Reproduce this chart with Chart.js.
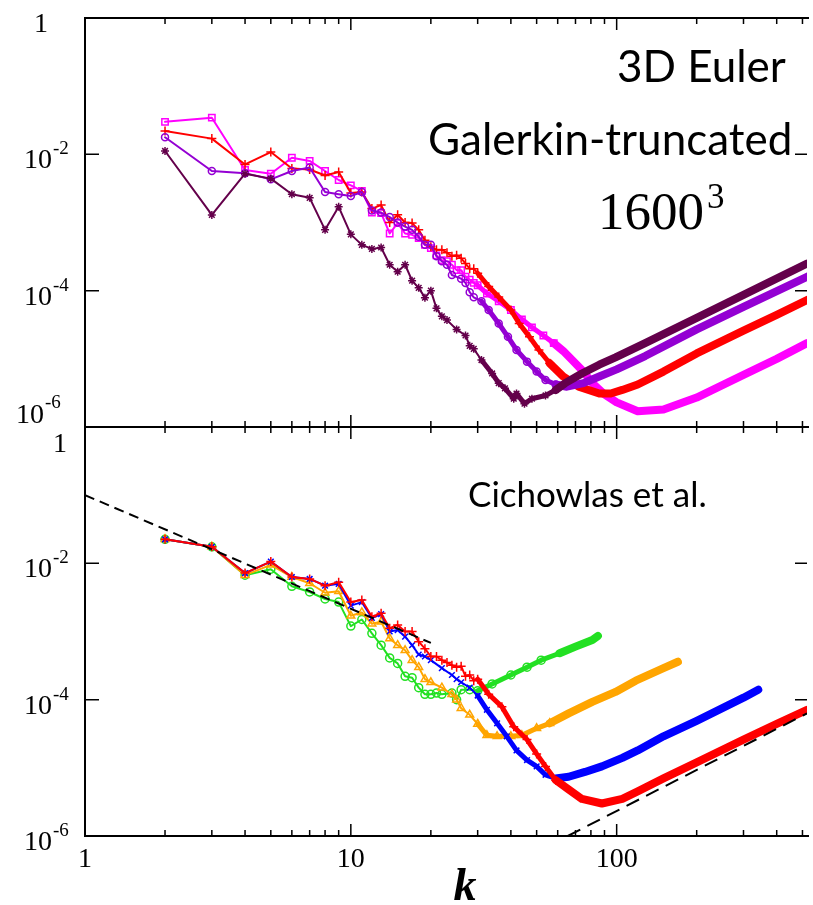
<!DOCTYPE html>
<html>
<head>
<meta charset="utf-8">
<title>3D Euler Galerkin-truncated spectra</title>
<script src="https://cdn.jsdelivr.net/npm/chart.js@4.4.1/dist/chart.umd.min.js"></script>
<style>
  html, body { margin: 0; padding: 0; background: #fff; }
  #wrap { position: relative; width: 813px; height: 905px; overflow: hidden; }
  canvas { position: absolute; left: 0; top: 0; }
</style>
</head>
<body>
<div id="wrap">
  <canvas id="chartTop" width="813" height="905"></canvas>
  <canvas id="chartBottom" width="813" height="905"></canvas>
</div>
<script>
// ---- axes ----
const xMajorTicks = [1, 10, 100];
const xMinorTicks = [2, 3, 4, 5, 6, 7, 8, 9, 20, 30, 40, 50, 60, 70, 80, 90, 200, 300, 400, 500];
const xTickLabels = ['1', '10', '100'];
const yTicks = [1, 1e-2, 1e-4, 1e-6];
const yTickExponents = ['', '-2', '-4', '-6'];

// ---- top panel: 1600^3 Galerkin-truncated runs, [k, E(k)] ----
const topRed = [[2,2.2e-2],[3,1.7e-2],[4,7.1e-3],[5,1.08e-2],[6,6.2e-3],[7,6.0e-3],[8,4.9e-3],[9,5.5e-3],
  [10,2.7e-3],[11,2.8e-3],[12,1.6e-3],[13,1.8e-3],[14,1.0e-3],[15,1.3e-3],[16,1.0e-3],[17,9.8e-4],[18,7.8e-4],
  [19,5.5e-4],[20,4.4e-4],[21,4.0e-4],[22,4.0e-4],[23,3.6e-4],[24,3.2e-4],[25,3.3e-4],[26,3.0e-4],[27,2.5e-4],
  [28,2.1e-4],[29,2.1e-4],[30,1.8e-4],[33,1.15e-4],[36,8.1e-5],[40,5.2e-5],[43,3.3e-5],[47,2.1e-5],[51,1.35e-5],
  [56,8.6e-6],[63,5.5e-6],[72,3.9e-6],[86,3.1e-6],[95,3.1e-6],[105,3.5e-6],[120,4.2e-6],[150,6.5e-6],
  [200,1.2e-5],[300,2.6e-5],[400,4.4e-5],[520,7.3e-5]];
const topMagenta = [[2,3.0e-2],[3,3.45e-2],[4,5.9e-3],[5,5.2e-3],[6,8.9e-3],[7,8.0e-3],[8,5.7e-3],[9,4.2e-3],
  [10,3.5e-3],[11,2.9e-3],[12,1.4e-3],[13,1.37e-3],[14,6.9e-4],[15,9.8e-4],[16,6.9e-4],[17,6.6e-4],[18,5.9e-4],
  [19,4.7e-4],[20,4.2e-4],[21,3.3e-4],[22,2.8e-4],[23,2.7e-4],[24,2.4e-4],[25,2.0e-4],[26,2.0e-4],[27,1.6e-4],
  [28,1.45e-4],[29,1.3e-4],[30,1.2e-4],[32.5,9.1e-5],[36,7.0e-5],[40,5.2e-5],[44,3.8e-5],[48,2.9e-5],[53,2.2e-5],
  [58,1.7e-5],[63,1.3e-5],[68,9.6e-6],[75,6.5e-6],[81,4.4e-6],[90,3.0e-6],[100,2.3e-6],[120,1.7e-6],
  [150,1.8e-6],[200,2.7e-6],[300,5.8e-6],[400,1.0e-5],[520,1.7e-5]];
const topPurple = [[2,1.78e-2],[3,5.7e-3],[4,5.3e-3],[5,4.3e-3],[6,5.7e-3],[7,6.4e-3],[8,2.8e-3],[9,2.6e-3],
  [10,2.45e-3],[11,2.8e-3],[12,1.5e-3],[13,1.4e-3],[14,1.2e-3],[15,1.0e-3],[16,8.7e-4],[17,7.8e-4],[18,6.2e-4],
  [19,4.7e-4],[20,4.7e-4],[21,3.2e-4],[22,2.7e-4],[23,2.4e-4],[24,1.7e-4],[26,1.5e-4],[27,1.3e-4],[28,9.5e-5],
  [29,8.0e-5],[31,7.0e-5],[33,5.2e-5],[36,3.3e-5],[39,2.1e-5],[42,1.35e-5],[46,9.1e-6],[50,6.5e-6],[54,4.9e-6],
  [59,4.2e-6],[65,3.9e-6],[75,4.4e-6],[86,5.5e-6],[100,7.0e-6],[128,1.1e-5],[200,2.7e-5],[300,5.8e-5],[520,1.6e-4]];
const topMaroon = [[2,1.12e-2],[3,1.29e-3],[4,5.2e-3],[5,4.4e-3],[6,2.6e-3],[7,2.3e-3],[8,7.8e-4],[9,1.7e-3],
  [10,6.7e-4],[11,4.7e-4],[12,4.1e-4],[13,4.3e-4],[14,2.4e-4],[15,1.9e-4],[16,2.4e-4],[17,1.4e-4],[18,1.1e-4],
  [19,7.9e-5],[20,1.0e-4],[21,5.5e-5],[22,4.2e-5],[23,3.7e-5],[25,2.7e-5],[27,2.2e-5],[28,1.55e-5],[29,1.4e-5],
  [31,9.6e-6],[34,6.1e-6],[36,4.4e-6],[38,3.7e-6],[41,2.6e-6],[42,3.1e-6],[45,2.2e-6],[48,2.6e-6],[54,2.9e-6],
  [59,3.5e-6],[64,4.4e-6],[74,6.1e-6],[86,8.2e-6],[99,1.05e-5],[128,1.7e-5],[200,4.0e-5],[300,8.7e-5],[520,2.5e-4]];

// ---- bottom panel: Cichowlas et al. runs ----
const botRed = [[2,2.25e-2],[3,1.75e-2],[4,7.2e-3],[5,1.06e-2],[6,6.3e-3],[7,5.9e-3],[8,4.7e-3],[9,5.3e-3],
  [10,2.7e-3],[11,2.9e-3],[12,1.65e-3],[13,1.85e-3],[14,1.12e-3],[15,1.25e-3],[16,1.0e-3],[17,1.0e-3],[18,7.1e-4],
  [19,5.6e-4],[20,4.3e-4],[21,4.3e-4],[22,3.8e-4],[23,3.5e-4],[24,3.2e-4],[25,3.0e-4],[26,3.1e-4],[27,2.2e-4],
  [28,2.3e-4],[29,1.9e-4],[30,2.0e-4],[33,1.2e-4],[37,7.9e-5],[41,4.0e-5],[46,2.6e-5],[50,1.6e-5],[54,1.05e-5],
  [59,6.6e-6],[66,4.8e-6],[74,3.5e-6],[88,3.0e-6],[105,3.5e-6],[120,4.5e-6],[150,7.0e-6],[200,1.2e-5],
  [300,2.6e-5],[400,4.4e-5],[520,7.1e-5]];
const botBlue = [[2,2.25e-2],[3,1.75e-2],[4,7.2e-3],[5,1.06e-2],[6,6.3e-3],[7,5.9e-3],[8,4.7e-3],[9,5.0e-3],
  [10,2.4e-3],[11,2.7e-3],[12,1.58e-3],[13,1.8e-3],[14,1.0e-3],[15,1.05e-3],[16,8.4e-4],[17,6.3e-4],[18,4.6e-4],
  [19,4.3e-4],[20,3.8e-4],[22,2.9e-4],[24,2.3e-4],[25,2.0e-4],[26,1.8e-4],[28,1.5e-4],[30,1.15e-4],[32.5,7.1e-5],
  [35.5,4.5e-5],[38.6,2.9e-5],[42,1.8e-5],[46,1.3e-5],[50,1.05e-5],[54,7.9e-6],[59,7.0e-6],[66,7.4e-6],[76,8.7e-6],
  [88,1.05e-5],[105,1.4e-5],[120,1.8e-5],[150,2.9e-5],[200,4.9e-5],[300,1.07e-4],[341,1.4e-4]];
const botOrange = [[2,2.25e-2],[3,1.75e-2],[4,6.7e-3],[5,9.5e-3],[6,6.3e-3],[7,5.1e-3],[8,3.7e-3],[9,3.9e-3],
  [10,1.7e-3],[11,1.9e-3],[12,1.3e-3],[13,1.39e-3],[14,7.9e-4],[15,6.3e-4],[16,5.3e-4],[17,3.8e-4],[18,3.0e-4],
  [19,2.0e-4],[20,1.8e-4],[22,1.5e-4],[24,1.2e-4],[25,1.0e-4],[26,7.5e-5],[28,6.0e-5],[30,4.4e-5],[32.5,3.0e-5],
  [35.5,2.9e-5],[40,2.9e-5],[44,3.0e-5],[50,3.8e-5],[56,4.5e-5],[66,6.3e-5],[81,9.3e-5],[99,1.3e-4],[118,1.9e-4],
  [150,2.9e-4],[170,3.6e-4]];
const botGreen = [[2,2.25e-2],[3,1.75e-2],[4,6.7e-3],[5,8.2e-3],[6,4.6e-3],[7,3.8e-3],[8,3.0e-3],[9,2.7e-3],
  [10,1.2e-3],[11,1.5e-3],[12,9.4e-4],[13,6.3e-4],[14,4.1e-4],[15,3.4e-4],[16,2.2e-4],[17,2.1e-4],[18,1.5e-4],
  [19,1.2e-4],[20,1.2e-4],[21,1.25e-4],[22,1.2e-4],[24,1.25e-4],[25,1.0e-4],[26,1.4e-4],[28,1.4e-4],[30,1.35e-4],
  [34,1.7e-4],[40,2.3e-4],[46,3.0e-4],[52,3.8e-4],[61,4.8e-4],[70,6.0e-4],[81,7.5e-4],[85,8.6e-4]];
// reference power laws k^-5/3 and k^2
const kolmogorovLine = [[1,0.1],[20,6.8e-4]];
const equipartitionLine = [[65.5,1e-6],[520,6.3e-5]];

const SERIF = "'Liberation Serif', 'DejaVu Serif', serif";
const SANS = "Lato, 'Open Sans', sans-serif";

// trait epais quand les marqueurs se chevauchent a grand k
function bandWidth(k) {
  if (k < 30) return 2;
  if (k < 55) return 5;
  return 8;
}

function series(points, color, style, radius, order) {
  return {
    data: points.map(p => ({x: p[0], y: p[1]})),
    showLine: true,
    order: order,
    borderColor: color,
    backgroundColor: 'rgba(0,0,0,0)',
    borderWidth: 2,
    borderJoinStyle: 'round',
    borderCapStyle: 'round',
    segment: { borderWidth: c => bandWidth(c.p0.parsed.x) },
    pointStyle: style,
    pointRadius: c => (c.raw && c.raw.x <= 60 ? radius : 0),
    pointBorderColor: color,
    pointBackgroundColor: 'rgba(0,0,0,0)',
    pointBorderWidth: 1.5,
  };
}

function dashed(points, dash) {
  return {
    data: points.map(p => ({x: p[0], y: p[1]})),
    showLine: true,
    order: 0,
    borderColor: '#000',
    borderWidth: 2,
    borderDash: dash,
    pointRadius: 0,
  };
}

function drawSup(ctx, base, exp, xRight, yBase, supBase) {
  ctx.font = '28px ' + SERIF;
  ctx.textAlign = 'right';
  ctx.fillText(base, xRight, yBase);
  ctx.font = '19px ' + SERIF;
  ctx.textAlign = 'left';
  ctx.fillText(exp, xRight + 1, supBase);
}

// cadre, graduations vers l'interieur et etiquettes
function framePlugin(opts) {
  return {
    id: 'frame',
    afterDatasetsDraw(chart) {
      const ctx = chart.ctx, a = chart.chartArea;
      const xs = chart.scales.x, ys = chart.scales.y;
      ctx.save();
      ctx.strokeStyle = '#000';
      ctx.lineWidth = 2;
      ctx.beginPath();
      ctx.moveTo(a.right + 2, a.top); ctx.lineTo(a.left, a.top);
      ctx.lineTo(a.left, a.bottom); ctx.lineTo(a.right + 2, a.bottom);
      ctx.stroke();

      ctx.lineWidth = 1.5;
      ctx.beginPath();
      const xt = (v, len) => {
        const p = xs.getPixelForValue(v);
        ctx.moveTo(p, a.top); ctx.lineTo(p, a.top + len);
        ctx.moveTo(p, a.bottom); ctx.lineTo(p, a.bottom - len);
      };
      xMajorTicks.forEach(v => xt(v, 12));
      xMinorTicks.forEach(v => xt(v, 6));
      yTicks.forEach(v => {
        const p = ys.getPixelForValue(v);
        ctx.moveTo(a.left, p); ctx.lineTo(a.left + 14, p);
        ctx.moveTo(a.right, p); ctx.lineTo(a.right - 12, p);
      });
      ctx.stroke();

      ctx.fillStyle = '#000';
      ctx.textBaseline = 'alphabetic';
      yTicks.forEach((v, i) => {
        const p = ys.getPixelForValue(v);
        if (v === 1) {
          ctx.font = '28px ' + SERIF;
          ctx.textAlign = 'center';
          ctx.fillText('1', opts.oneX, p + opts.oneDy);
        } else if (v === 1e-6 && opts.lowShift) {
          drawSup(ctx, '10', yTickExponents[i], 44, p - 4, p - 19);
        } else {
          drawSup(ctx, '10', yTickExponents[i], 52, p + 14, p);
        }
      });

      if (opts.xLabels) {
        ctx.font = '28px ' + SERIF;
        ctx.textAlign = 'center';
        xMajorTicks.forEach((v, i) => {
          ctx.fillText(xTickLabels[i], xs.getPixelForValue(v), a.bottom + 31);
        });
        ctx.font = 'italic bold 46px ' + SERIF;
        ctx.fillText('k', 465, 900);
      }
      opts.texts.forEach(t => {
        ctx.font = t.font;
        ctx.textAlign = 'left';
        ctx.fillText(t.text, t.x, t.y);
      });
      ctx.restore();
    }
  };
}

function makeChart(id, datasets, padding, opts) {
  return new Chart(document.getElementById(id), {
    type: 'scatter',
    data: { datasets: datasets },
    options: {
      responsive: false,
      animation: false,
      devicePixelRatio: 1,
      layout: { padding: padding },
      plugins: { legend: { display: false }, tooltip: { enabled: false } },
      scales: {
        x: { type: 'logarithmic', min: 1, max: 520, display: false },
        y: { type: 'logarithmic', min: 1e-6, max: 1, display: false }
      }
    },
    plugins: [framePlugin(opts)]
  });
}

makeChart('chartTop', [
  series(topMaroon, '#64004b', 'star', 4, 1),
  series(topPurple, '#9400d3', 'circle', 3.5, 2),
  series(topRed, '#ff0000', 'cross', 4.5, 3),
  series(topMagenta, '#ff00ff', 'rect', 4.5, 4),
], { left: 85, top: 18, right: 0, bottom: 478 }, {
  oneX: 41, oneDy: 14, lowShift: true, xLabels: false,
  texts: [
    { text: '3D Euler', x: 617, y: 82, font: '44px ' + SANS },
    { text: 'Galerkin-truncated', x: 428, y: 155, font: '44px ' + SANS },
    { text: '1600', x: 598, y: 229, font: '53px ' + SERIF },
    { text: '3', x: 707, y: 208, font: '35px ' + SERIF },
  ]
});

makeChart('chartBottom', [
  dashed(kolmogorovLine, [10, 6]),
  dashed(equipartitionLine, [14, 8]),
  series(botRed, '#ff0000', 'cross', 4.5, 1),
  series(botBlue, '#0000ff', 'crossRot', 4, 2),
  series(botOrange, '#ffa500', 'triangle', 4.5, 3),
  series(botGreen, '#22e022', 'circle', 4, 4),
], { left: 85, top: 427, right: 0, bottom: 69 }, {
  oneX: 60, oneDy: 25, lowShift: false, xLabels: true,
  texts: [
    { text: 'Cichowlas et al.', x: 468, y: 507, font: '35px ' + SANS },
  ]
});
</script>
</body>
</html>
